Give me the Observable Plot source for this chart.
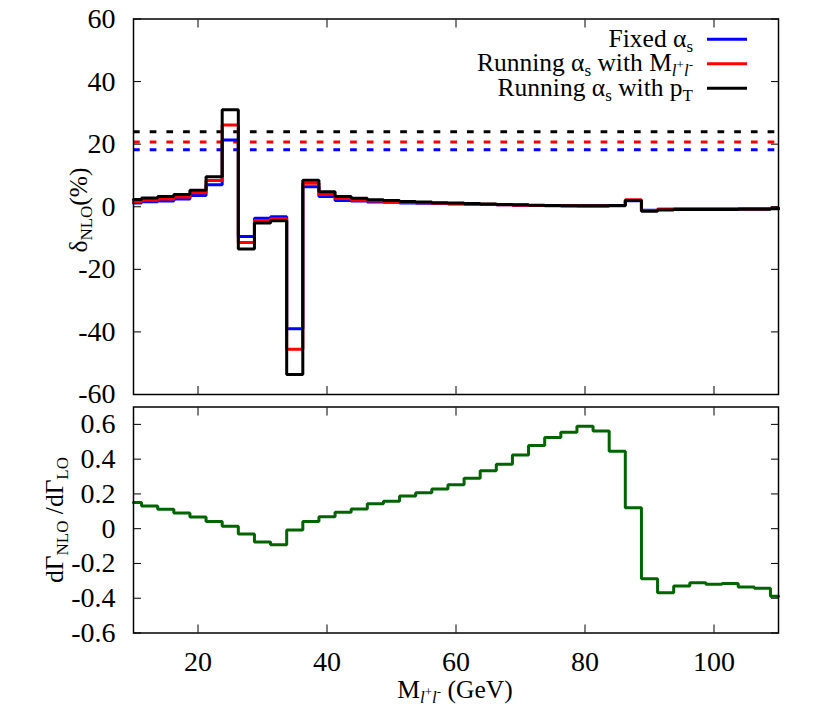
<!DOCTYPE html>
<html><head><meta charset="utf-8">
<script src="https://cdn.jsdelivr.net/npm/d3@7"></script>
<script src="https://cdn.jsdelivr.net/npm/@observablehq/plot@0.6"></script>
<style>
html,body{margin:0;padding:0;background:#fff;}
#chart{position:relative;width:830px;height:727px;background:#fff;}
#chart > svg{position:absolute;left:0;}
</style></head><body><div id="chart"></div>
<script>
// ---- data ----
const mass = [10, 12.5, 15, 17.5, 20, 22.5, 25, 27.5, 30, 32.5, 35, 37.5, 40, 42.5, 45, 47.5, 50, 52.5, 55, 57.5, 60, 62.5, 65, 67.5, 70, 72.5, 75, 77.5, 80, 82.5, 85, 87.5, 90, 92.5, 95, 97.5, 100, 102.5, 105, 107.5, 110];
const deltaFixed = [1.2, 1.6, 1.8, 2.5, 3.6, 7.0, 21.3, -9.5, -3.7, -3.2, -39.0, 6.4, 3.3, 2.0, 1.8, 1.5, 1.4, 1.2, 1.1, 1.0, 0.9, 0.8, 0.7, 0.6, 0.5, 0.4, 0.3, 0.3, 0.2, 0.2, 0.3, 1.9, -1.1, -0.8, -0.7, -0.7, -0.7, -0.7, -0.6, -0.6, -0.5];
const deltaRunM = [1.7, 2.1, 2.5, 3.1, 4.5, 8.4, 26.1, -11.4, -4.4, -3.8, -45.5, 7.5, 3.9, 2.6, 2.1, 1.8, 1.6, 1.4, 1.3, 1.1, 1.0, 0.9, 0.8, 0.6, 0.5, 0.4, 0.4, 0.3, 0.3, 0.3, 0.4, 2.2, -1.2, -0.8, -0.7, -0.7, -0.7, -0.7, -0.7, -0.7, -0.5];
const deltaRunPt = [2.3, 2.8, 3.3, 3.9, 5.3, 9.6, 31.0, -13.5, -5.2, -4.5, -53.6, 8.5, 4.8, 3.3, 2.7, 2.2, 2.0, 1.7, 1.5, 1.3, 1.2, 1.0, 0.9, 0.7, 0.6, 0.5, 0.4, 0.3, 0.3, 0.3, 0.4, 2.0, -1.4, -1.0, -0.9, -0.9, -0.9, -0.9, -0.8, -0.8, -0.6];
const avgFixed = 18.2;
const avgRunM = 20.7;
const avgRunPt = 24.0;
const ratio = [0.151, 0.131, 0.112, 0.090, 0.067, 0.042, 0.014, -0.031, -0.077, -0.092, -0.007, 0.042, 0.069, 0.094, 0.113, 0.144, 0.158, 0.188, 0.207, 0.229, 0.253, 0.290, 0.334, 0.371, 0.424, 0.478, 0.524, 0.555, 0.589, 0.562, 0.445, 0.121, -0.288, -0.368, -0.330, -0.311, -0.320, -0.315, -0.336, -0.343, -0.389];
const xTicks = [20, 40, 60, 80, 100];
const topYTicks = [-60, -40, -20, 0, 20, 40, 60];
const bottomYTicks = [-0.6, -0.4, -0.2, 0, 0.2, 0.4, 0.6];
const seriesNames = ["Fixed", "RunM", "RunPt"];
const seriesColors = ["#0000ff", "#ff0000", "#000000"];

// ---- build tables ----
const seriesValues = [deltaFixed, deltaRunM, deltaRunPt];
const seriesAvg = [avgFixed, avgRunM, avgRunPt];
const rows = seriesNames.map((s, i) => mass.map((m, j) => ({mass: m, delta: seriesValues[i][j], series: s})));
const ratioRows = mass.map((m, j) => ({mass: m, ratio: ratio[j]}));

const serif = "Liberation Serif";
const TICKFONT = 28;
const fmt = d => d === 0 ? "0" : (Number.isInteger(d) ? String(d) : d.toFixed(1));
const chart = document.getElementById("chart");
const labelOpts = {fontFamily: serif, fontSize: TICKFONT, fill: "black", label: null};

const topPlot = Plot.plot({
  width: 830, height: 400,
  marginLeft: 133, marginRight: 52, marginTop: 18.5, marginBottom: 6,
  style: {fontFamily: serif, fontSize: TICKFONT + "px", background: "transparent", color: "black", overflow: "visible"},
  x: {domain: [10, 110]},
  y: {domain: [-60, 60]},
  marks: [
    ...seriesNames.map((s, i) => Plot.ruleY([seriesAvg[i]], {stroke: seriesColors[i], strokeWidth: 3, strokeDasharray: "6.7,10"})),
    ...seriesNames.map((s, i) => Plot.line(rows[i], {x: "mass", y: "delta", curve: "step", stroke: seriesColors[i], strokeWidth: 3, strokeLinejoin: "miter"})),
    Plot.frame({stroke: "black", strokeWidth: 1.5}),
    Plot.axisY(topYTicks, {anchor: "left", tickSize: 0, tickPadding: 18, tickFormat: fmt, ...labelOpts}),
    Plot.axisY(topYTicks, {anchor: "left", tickSize: 8, dx: 8, fill: "none", label: null}),
    Plot.axisY(topYTicks, {anchor: "right", tickSize: 8, dx: -8, fill: "none", label: null}),
    Plot.axisX(xTicks, {anchor: "top", tickSize: 8, dy: 8, fill: "none", label: null}),
    Plot.axisX(xTicks, {anchor: "bottom", tickSize: 8, dy: -8, fill: "none", label: null})
  ]
});
topPlot.style.top = "0px";
chart.appendChild(topPlot);

const bottomPlot = Plot.plot({
  width: 830, height: 327,
  marginLeft: 133, marginRight: 52, marginTop: 6.5, marginBottom: 94.5,
  style: {fontFamily: serif, fontSize: TICKFONT + "px", background: "transparent", color: "black", overflow: "visible"},
  x: {domain: [10, 110]},
  y: {domain: [-0.6, 0.7]},
  marks: [
    Plot.line(ratioRows, {x: "mass", y: "ratio", curve: "step", stroke: "#006400", strokeWidth: 3, strokeLinejoin: "miter"}),
    Plot.frame({stroke: "black", strokeWidth: 1.5}),
    Plot.axisY(bottomYTicks, {anchor: "left", tickSize: 0, tickPadding: 18, tickFormat: fmt, ...labelOpts}),
    Plot.axisY(bottomYTicks, {anchor: "left", tickSize: 8, dx: 8, fill: "none", label: null}),
    Plot.axisY(bottomYTicks, {anchor: "right", tickSize: 8, dx: -8, fill: "none", label: null}),
    Plot.axisX(xTicks, {anchor: "top", tickSize: 8, dy: 8, fill: "none", label: null}),
    Plot.axisX(xTicks, {anchor: "bottom", tickSize: 8, dy: -8, fill: "none", label: null}),
    Plot.axisX(xTicks, {anchor: "bottom", tickSize: 0, tickPadding: 18, tickFormat: fmt, ...labelOpts})
  ]
});
bottomPlot.style.top = "400px";
chart.appendChild(bottomPlot);

// ---- overlay: legend and axis titles with sub/superscripts ----
const FONT = 25.5;
const ov = d3.select(chart).append("svg")
  .attr("width", 830).attr("height", 727)
  .style("top", "0px").style("pointer-events", "none")
  .attr("font-family", serif).attr("font-size", FONT).attr("fill", "black");

function rich(textSel, parts) {
  let cur = 0;
  for (const p of parts) {
    const ts = textSel.append("tspan").text(p.t);
    const target = p.shift || 0;
    if (target !== cur) { ts.attr("dy", target - cur); cur = target; }
    if (p.size) ts.attr("font-size", p.size);
    if (p.italic) ts.attr("font-style", "italic");
  }
}
const SUB = 5, SUBSIZE = 17, SUP = -2, SUPSIZE = 13;
const legendParts = [
  [{t: "Fixed α"}, {t: "s", shift: SUB, size: SUBSIZE}],
  [{t: "Running α"}, {t: "s", shift: SUB, size: SUBSIZE}, {t: " with M"}, {t: "l", shift: SUB, size: SUBSIZE, italic: true}, {t: "+", shift: SUP, size: SUPSIZE}, {t: "l", shift: SUB, size: SUBSIZE, italic: true}, {t: "-", shift: SUP, size: SUPSIZE}],
  [{t: "Running α"}, {t: "s", shift: SUB, size: SUBSIZE}, {t: " with p"}, {t: "T", shift: SUB, size: SUBSIZE}]
];
const legendY = [39.3, 63.8, 88.3];
legendParts.forEach((parts, i) => {
  const t = ov.append("text").attr("x", 693).attr("y", legendY[i] + 7.5).attr("text-anchor", "end");
  rich(t, parts);
  ov.append("line").attr("x1", 707).attr("x2", 747).attr("y1", legendY[i]).attr("y2", legendY[i])
    .attr("stroke", seriesColors[i]).attr("stroke-width", 3);
});

const yl1 = ov.append("text").attr("transform", "translate(87,210) rotate(-90)").attr("text-anchor", "middle");
rich(yl1, [{t: "δ"}, {t: "NLO", shift: SUB, size: SUBSIZE}, {t: "(%)"}]);
const yl2 = ov.append("text").attr("transform", "translate(63,520) rotate(-90)").attr("text-anchor", "middle");
rich(yl2, [{t: "dΓ"}, {t: "NLO", shift: SUB, size: SUBSIZE}, {t: " /dΓ"}, {t: "LO", shift: SUB, size: SUBSIZE}]);
const xl = ov.append("text").attr("x", 455).attr("y", 698).attr("text-anchor", "middle");
rich(xl, [{t: "M"}, {t: "l", shift: SUB, size: SUBSIZE, italic: true}, {t: "+", shift: SUP, size: SUPSIZE}, {t: "l", shift: SUB, size: SUBSIZE, italic: true}, {t: "-", shift: SUP, size: SUPSIZE}, {t: " (GeV)"}]);
</script></body></html>
